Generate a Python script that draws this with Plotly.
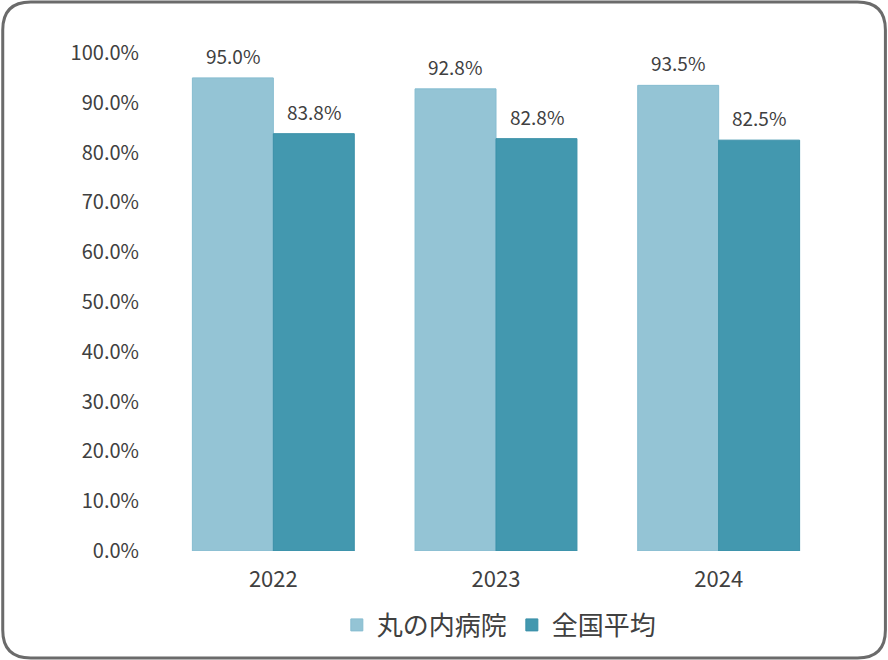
import plotly.graph_objects as go

years = ["2022", "2023", "2024"]
marunouchi = [95.0, 92.8, 93.5]
national = [83.8, 82.8, 82.5]
series_names = ["丸の内病院", "全国平均"]
tick_vals = [0, 10, 20, 30, 40, 50, 60, 70, 80, 90, 100]

W, H = 888, 660
L, R, T, B = 161.5, 57.5, 53, 109
pw, ph = W - L - R, H - T - B

def px(x):
    return (x - L) / pw

def py(y):
    return (H - B - y) / ph

font = "Noto Sans CJK JP, Noto Sans, sans-serif"
txt = "#404040"
bar_px = pw / 3 * (1 - 0.273) / 2

fig = go.Figure()
fig.add_trace(go.Bar(
    x=years, y=marunouchi, name=series_names[0],
    marker=dict(color="#94C4D5", line=dict(color="#86BCD0", width=1)),
))
fig.add_trace(go.Bar(
    x=years, y=national, name=series_names[1],
    marker=dict(color="#4398AF", line=dict(color="#3A90A8", width=1)),
))

annotations = []
for vals, sign in ((marunouchi, -1), (national, 1)):
    for i, (yr, v) in enumerate(zip(years, vals)):
        annotations.append(dict(
            x=i, y=v, xref="x", yref="y", text=f"{v:.1f}%", showarrow=False,
            xshift=sign * bar_px / 2, yshift=7, yanchor="bottom", xanchor="center",
            font=dict(size=19, color=txt, family=font)))

# rounded border around the whole image
x0, y0, x1, y1, r = 2, 2, 886, 658, 28
path = (
    f"M {px(x0 + r)},{py(y0)} L {px(x1 - r)},{py(y0)} "
    f"Q {px(x1)},{py(y0)} {px(x1)},{py(y0 + r)} "
    f"L {px(x1)},{py(y1 - r)} Q {px(x1)},{py(y1)} {px(x1 - r)},{py(y1)} "
    f"L {px(x0 + r)},{py(y1)} Q {px(x0)},{py(y1)} {px(x0)},{py(y1 - r)} "
    f"L {px(x0)},{py(y0 + r)} Q {px(x0)},{py(y0)} {px(x0 + r)},{py(y0)} Z"
)

fig.update_layout(
    width=W, height=H,
    margin=dict(l=L, r=R, t=T, b=B, autoexpand=False),
    paper_bgcolor="white", plot_bgcolor="white",
    barmode="group", bargap=0.273, bargroupgap=0,
    font=dict(family=font, color=txt, size=19),
    showlegend=True,
    legend=dict(orientation="h", x=0.505, xanchor="center", y=py(625), yanchor="middle",
                font=dict(size=26, color=txt, family=font), itemwidth=30,
                traceorder="normal"),
    xaxis=dict(type="category", showline=False, ticks="",
               tickfont=dict(size=22, color=txt), ticklabelstandoff=13),
    yaxis=dict(range=[0, 100], tickvals=tick_vals,
               ticktext=[f"{v:.1f}%" for v in tick_vals],
               showgrid=False, zeroline=False, showline=False,
               tickfont=dict(size=20, color=txt), ticklabelstandoff=22),
    annotations=annotations,
    shapes=[dict(type="path", path=path, xref="paper", yref="paper",
                 line=dict(color="#6B6B6B", width=3), layer="above")],
)

fig.write_html("out.html", config={"displayModeBar": False},
               post_script="document.body.style.margin='0';document.body.style.overflow='hidden';")
